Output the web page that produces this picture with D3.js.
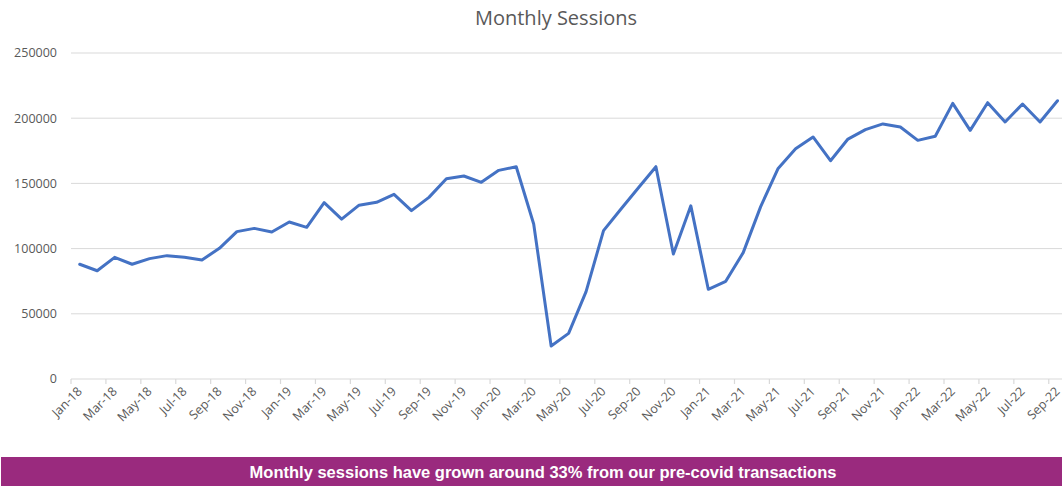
<!DOCTYPE html>
<html>
<head>
<meta charset="utf-8">
<script src="https://cdn.jsdelivr.net/npm/d3@7"></script>
<style>
  body { margin: 0; background: #fff; }
  svg { display: block; }
</style>
</head>
<body>
<div id="chart"></div>
<script>
const months = ["Jan-18","Feb-18","Mar-18","Apr-18","May-18","Jun-18","Jul-18","Aug-18","Sep-18","Oct-18","Nov-18","Dec-18",
    "Jan-19","Feb-19","Mar-19","Apr-19","May-19","Jun-19","Jul-19","Aug-19","Sep-19","Oct-19","Nov-19","Dec-19",
    "Jan-20","Feb-20","Mar-20","Apr-20","May-20","Jun-20","Jul-20","Aug-20","Sep-20","Oct-20","Nov-20","Dec-20",
    "Jan-21","Feb-21","Mar-21","Apr-21","May-21","Jun-21","Jul-21","Aug-21","Sep-21","Oct-21","Nov-21","Dec-21",
    "Jan-22","Feb-22","Mar-22","Apr-22","May-22","Jun-22","Jul-22","Aug-22","Sep-22"];

const sessions = [88000, 83000, 93300, 88000, 92300, 94600, 93300, 91300, 100200, 113000, 115500, 112700,
    120400, 116300, 135200, 122600, 133300, 135500, 141600, 129100, 139300, 153600, 155700, 150800,
    160000, 162800, 118900, 25300, 35000, 67000, 113800, 130400, 146700, 162800, 95900, 132800,
    68800, 74900, 96900, 132200, 161500, 176600, 185600, 167400, 184000, 191200, 195600, 193300,
    183000, 186100, 211400, 190700, 211900, 197100, 210900, 197100, 213400];

const yTicks = [0, 50000, 100000, 150000, 200000, 250000];

const title = "Monthly Sessions";
const bannerText = "Monthly sessions have grown around 33% from our pre-covid transactions";

const width = 1062;
const height = 486;
const plotLeft = 71, plotTop = 53, plotBottom = 379;
const step = 17.46;

const svg = d3.select("#chart").append("svg")
    .attr("width", width)
    .attr("height", height);

const x = d3.scaleBand()
    .domain(months)
    .range([plotLeft, plotLeft + months.length * step])
    .padding(0);

const y = d3.scaleLinear()
    .domain([0, 250000])
    .range([plotBottom, plotTop]);

// gridlines
svg.append("g")
    .selectAll("line")
    .data(yTicks.filter(d => d > 0))
    .enter().append("line")
    .attr("x1", plotLeft)
    .attr("x2", width)
    .attr("y1", d => y(d))
    .attr("y2", d => y(d))
    .attr("stroke", "#d9d9d9")
    .attr("stroke-width", 1);

// y labels
svg.append("g")
    .selectAll("text")
    .data(yTicks)
    .enter().append("text")
    .attr("x", 57)
    .attr("y", d => y(d))
    .attr("dy", "0.35em")
    .attr("text-anchor", "end")
    .attr("font-family", "Open Sans, sans-serif")
    .attr("font-size", 12.5)
    .attr("fill", "#595959")
    .text(d => d);

// x axis line + ticks
svg.append("line")
    .attr("x1", plotLeft)
    .attr("x2", width)
    .attr("y1", plotBottom)
    .attr("y2", plotBottom)
    .attr("stroke", "#d9d9d9")
    .attr("stroke-width", 1.2);

const labelled = months.filter((d, i) => i % 2 === 0);

svg.append("g")
    .selectAll("line")
    .data(labelled)
    .enter().append("line")
    .attr("x1", d => x(d))
    .attr("x2", d => x(d))
    .attr("y1", plotBottom)
    .attr("y2", plotBottom + 5)
    .attr("stroke", "#d9d9d9")
    .attr("stroke-width", 1.2);

svg.append("g")
    .selectAll("text")
    .data(labelled)
    .enter().append("text")
    .attr("transform", d => `translate(${x(d) + x.bandwidth() / 2},${plotBottom + 10}) rotate(-45)`)
    .attr("text-anchor", "end")
    .attr("dy", "0.35em")
    .attr("font-family", "Open Sans, sans-serif")
    .attr("font-size", 12.5)
    .attr("fill", "#595959")
    .text(d => d);

// line
const line = d3.line()
    .x((d, i) => x(months[i]) + x.bandwidth() / 2)
    .y(d => y(d));

svg.append("path")
    .datum(sessions)
    .attr("fill", "none")
    .attr("stroke", "#4472c4")
    .attr("stroke-width", 3)
    .attr("stroke-linejoin", "round")
    .attr("stroke-linecap", "round")
    .attr("d", line);

// title
svg.append("text")
    .attr("x", 556)
    .attr("y", 25)
    .attr("text-anchor", "middle")
    .attr("font-family", "Open Sans, sans-serif")
    .attr("font-size", 20)
    .attr("fill", "#595959")
    .text(title);

// banner
svg.append("rect")
    .attr("x", 1)
    .attr("y", 457)
    .attr("width", width - 1)
    .attr("height", height - 457)
    .attr("fill", "#9a2a7e");

svg.append("text")
    .attr("x", 543)
    .attr("y", 472)
    .attr("dy", "0.35em")
    .attr("text-anchor", "middle")
    .attr("font-family", "Liberation Sans, Arial, sans-serif")
    .attr("font-weight", "bold")
    .attr("font-size", 16.5)
    .attr("fill", "#fff")
    .text(bannerText);
</script>
</body>
</html>
